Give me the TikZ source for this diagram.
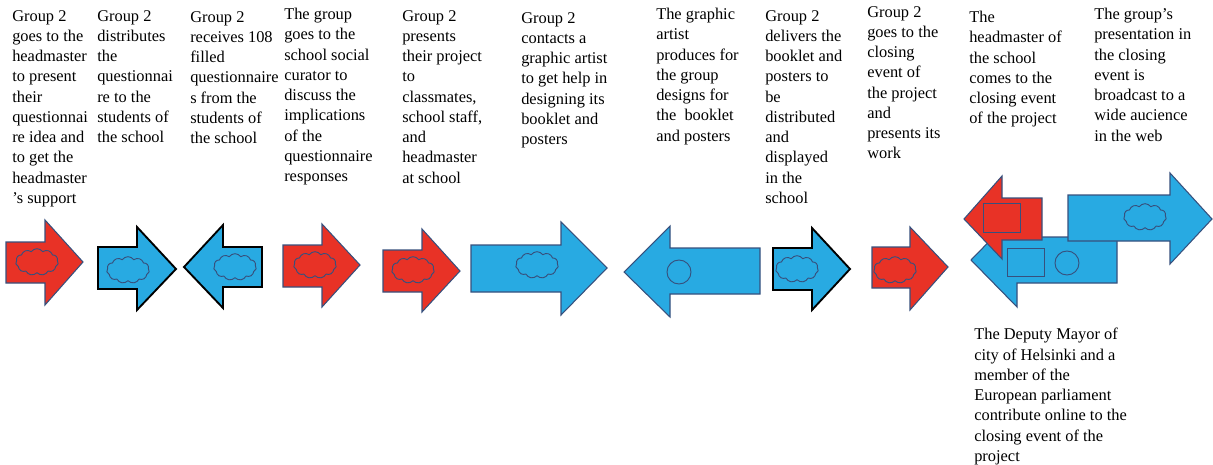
\documentclass[tikz,border=0pt]{standalone}
\usepackage{fontspec}
\setmainfont{Liberation Serif}
\usetikzlibrary{shapes.symbols}
\definecolor{arrred}{RGB}{232,50,38}
\definecolor{arrblue}{RGB}{40,170,226}
\definecolor{edgeblue}{RGB}{55,80,125}
\newcommand{\blockarrow}[9]{%
  \filldraw[#1] (#2,#3) -- (#5,#3) -- (#5,#6) -- (#8,#9) -- (#5,#7) -- (#5,#4) -- (#2,#4) -- cycle;}
\tikzset{
  redarrow/.style={fill=arrred, draw=edgeblue, line width=0.8pt},
  bluearrow/.style={fill=arrblue, draw=edgeblue, line width=0.8pt},
  bluebold/.style={fill=arrblue, draw=black, line width=1.4pt},
  puff/.style={cloud, cloud puffs=11, cloud puff arc=110, aspect=1.6, draw=edgeblue,
    line width=0.7pt, minimum width=32pt, minimum height=20pt, inner sep=0pt},
  ring/.style={circle, draw=edgeblue, line width=0.7pt, minimum size=18pt, inner sep=0pt},
  boxmark/.style={draw=edgeblue, line width=0.7pt, minimum width=27.75pt, minimum height=21.5pt, inner sep=0pt},
  steptext/.style={anchor=north west, align=left, inner sep=0pt, font=\fontsize{12.3}{15.2}\selectfont}
}

\begin{document}
\begin{tikzpicture}[x=0.75pt, y=-0.75pt]
        \useasboundingbox (0,0) rectangle (1213,464);

        \node[steptext] (s1) at (12, 10) {Group 2\\goes to the\\headmaster\\to present\\their\\questionnai\\re idea and\\to get the\\headmaster\\’s support};
        \node[steptext] (s2) at (97, 10) {Group 2\\distributes\\the\\questionnai\\re to the\\students of\\the school};
        \node[steptext] (s3) at (190, 11) {Group 2\\receives 108\\filled\\questionnaire\\s from the\\students of\\the school};
        \node[steptext] (s4) at (284, 8) {The group\\goes to the\\school social\\curator to\\discuss the\\implications\\of the\\questionnaire\\responses};
        \node[steptext] (s5) at (402, 10) {Group 2\\presents\\their project\\to\\classmates,\\school staff,\\and\\headmaster\\at school};
        \node[steptext] (s6) at (521, 12) {Group 2\\contacts a\\graphic artist\\to get help in\\designing its\\booklet and\\posters};
        \node[steptext] (s7) at (656, 8) {The graphic\\artist\\produces for\\the group\\designs for\\the\ \ booklet\\and posters};
        \node[steptext] (s8) at (765, 10) {Group 2\\delivers the\\booklet and\\posters to\\be\\distributed\\and\\displayed\\in the\\school};
        \node[steptext] (s9) at (867, 6) {Group 2\\goes to the\\closing\\event of\\the project\\and\\presents its\\work};
        \node[steptext] (s10) at (969, 11) {The\\headmaster of\\the school\\comes to the\\closing event\\of the project};
        \node[steptext] (s11) at (1094, 8) {The group’s\\presentation in\\the closing\\event is\\broadcast to a\\wide aucience\\in the web};
        \node[steptext] (s12) at (974, 328) {The Deputy Mayor of\\city of Helsinki and a\\member of the\\European parliament\\contribute online to the\\closing event of the\\project};

        \blockarrow{redarrow}{6}{242}{283}{45}{220}{305}{83}{262}
        \blockarrow{bluebold}{98}{247}{289}{137}{227}{310}{176}{269}
        \blockarrow{bluebold}{262}{247}{287}{223}{225}{308}{184}{267}
        \blockarrow{redarrow}{283}{245}{287}{322}{224}{307}{360}{265}
        \blockarrow{redarrow}{383}{250}{292}{422}{229}{312}{460}{271}
        \blockarrow{bluearrow}{471}{245}{292}{561}{222}{315}{607}{268}
        \blockarrow{bluearrow}{760}{248}{294}{670}{226}{317}{624}{272}
        \blockarrow{bluebold}{773}{248}{290}{812}{228}{310}{850}{269}
        \blockarrow{redarrow}{872}{247}{288}{910}{227}{310}{948}{267}

        \node[puff] (p1) at (37, 262) {};
        \node[puff] (p2) at (128, 270) {};
        \node[puff] (p3) at (235, 267) {};
        \node[puff] (p4) at (315, 265) {};
        \node[puff] (p5) at (413, 270) {};
        \node[puff] (p6) at (537, 265) {};
        \node[ring] (r7) at (679, 272) {};
        \node[puff] (p8) at (797, 269) {};
        \node[puff] (p9) at (895, 270) {};

        \blockarrow{bluearrow}{1117}{237}{283}{1017}{213}{307}{971}{260}
        \node[boxmark] (b10) at (1025.5, 262.5) {};
        \node[ring] (r10) at (1067, 263) {};
        \blockarrow{redarrow}{1042}{198}{240}{1002}{176}{259}{964}{219}
        \node[boxmark] (b11) at (1001.5, 218) {};
        \blockarrow{bluearrow}{1068}{195}{241}{1170}{173}{264}{1212}{219}
        \node[puff] (p12) at (1145, 217) {};
\end{tikzpicture}
\end{document}
